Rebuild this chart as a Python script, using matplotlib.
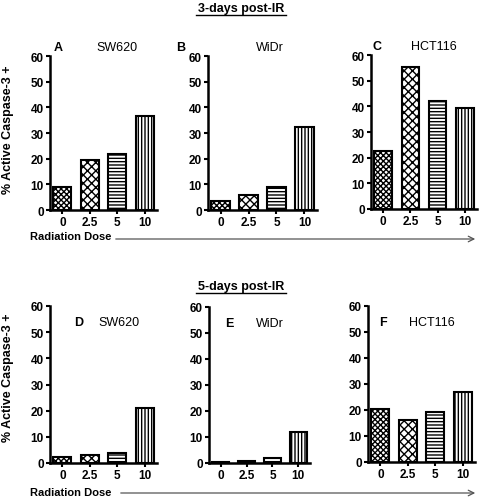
import matplotlib
matplotlib.use("Agg")
import matplotlib.pyplot as plt

plt.rcParams['font.family'] = ['Liberation Sans', 'DejaVu Sans']
plt.rcParams['hatch.linewidth'] = 1.0

doses = ["0", "2.5", "5", "10"]
hatches = ["xxxxxx", "xxxx", "-----", "|||||"]

sw620_3d = [9, 19.5, 22, 36.5]
widr_3d = [3.5, 6, 9, 32.5]
hct116_3d = [22.5, 55.5, 42, 39.5]
sw620_5d = [2.2, 3, 4, 21]
widr_5d = [0.3, 0.8, 2, 12]
hct116_5d = [20.3, 16.2, 19.2, 27]

W, H = 483, 502
fig = plt.figure(figsize=(W / 100, H / 100), dpi=100)

def px_axes(left, top, right, bottom):
    return fig.add_axes([left / W, 1 - bottom / H, (right - left) / W, (bottom - top) / H])

def panel(ax, vals, letter, name, inside, lx, nx):
    ax.bar(range(4), vals, width=0.65, color="white", edgecolor="black",
           linewidth=1.5, hatch=hatches)
    ax.set_xlim(-0.45, 3.45)
    ax.set_ylim(0, 60)
    ax.set_yticks(range(0, 61, 10))
    ax.set_xticks(range(4))
    ax.set_xticklabels(doses)
    for s in ["top", "right"]:
        ax.spines[s].set_visible(False)
    for s in ["left", "bottom"]:
        ax.spines[s].set_linewidth(1.8)
    ax.tick_params(width=1.5, length=3, labelsize=8.5, pad=1.5)
    for t in ax.get_xticklabels() + ax.get_yticklabels():
        t.set_fontweight("bold")
    y = 0.9 if inside else 1.06
    ax.text(lx, y, letter, transform=ax.transAxes, fontsize=9, fontweight="bold",
            ha="center", va="center")
    ax.text(nx, y, name, transform=ax.transAxes, fontsize=9, ha="center", va="center")

axA = px_axes(50, 57, 157, 211)
axB = px_axes(208, 57, 317, 211)
axC = px_axes(371, 56, 477, 210)
axD = px_axes(50, 307, 157, 464)
axE = px_axes(209, 308, 310, 464)
axF = px_axes(368, 307, 475, 463)

panel(axA, sw620_3d, "A", "SW620", False, 0.08, 0.63)
panel(axB, widr_3d, "B", "WiDr", False, -0.25, 0.57)
panel(axC, hct116_3d, "C", "HCT116", False, 0.06, 0.59)
panel(axD, sw620_5d, "D", "SW620", True, 0.27, 0.64)
panel(axE, widr_5d, "E", "WiDr", True, 0.2, 0.6)
panel(axF, hct116_5d, "F", "HCT116", True, 0.14, 0.6)

fig.text(241 / W, 1 - 9 / H, "3-days post-IR", fontsize=9, fontweight="bold",
         ha="center", va="center")
fig.text(241 / W, 1 - 287 / H, "5-days post-IR", fontsize=9, fontweight="bold",
         ha="center", va="center")
# underlines
fig.add_artist(plt.Line2D([196 / W, 286 / W], [1 - 16 / H, 1 - 16 / H], color="black", lw=1))
fig.add_artist(plt.Line2D([196 / W, 286 / W], [1 - 294 / H, 1 - 294 / H], color="black", lw=1))

fig.text(8 / W, 1 - 130 / H, "% Active Caspase-3 +", rotation=90, fontsize=9,
         fontweight="bold", ha="center", va="center")
fig.text(8 / W, 1 - 378 / H, "% Active Caspase-3 +", rotation=90, fontsize=9,
         fontweight="bold", ha="center", va="center")

fig.text(30 / W, 1 - 237 / H, "Radiation Dose", fontsize=8, fontweight="bold",
         ha="left", va="center")
fig.text(30 / W, 1 - 493 / H, "Radiation Dose", fontsize=8, fontweight="bold",
         ha="left", va="center")
fig.add_artist(matplotlib.patches.FancyArrowPatch((113 / W, 1 - 240 / H), (478 / W, 1 - 240 / H),
               transform=fig.transFigure, arrowstyle="->", mutation_scale=10,
               color="#555555", lw=0.9))
fig.add_artist(matplotlib.patches.FancyArrowPatch((118 / W, 1 - 494 / H), (478 / W, 1 - 494 / H),
               transform=fig.transFigure, arrowstyle="->", mutation_scale=10,
               color="#555555", lw=0.9))

fig.savefig("out.png", dpi=100)
